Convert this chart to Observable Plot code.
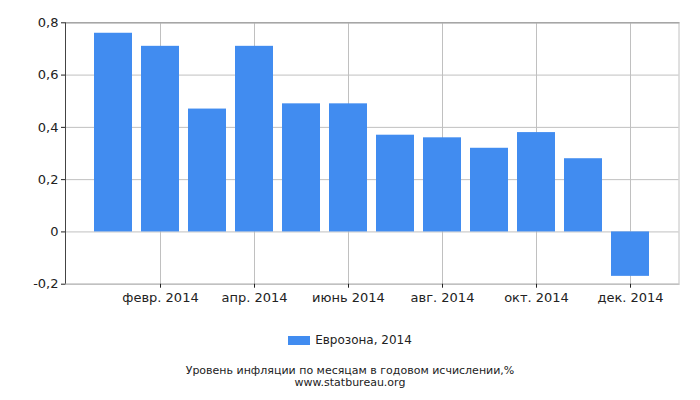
<!DOCTYPE html>
<html>
<head>
<meta charset="utf-8">
<script src="https://cdn.jsdelivr.net/npm/d3@7"></script>
<script src="https://cdn.jsdelivr.net/npm/@observablehq/plot@0.6"></script>
<style>
  html, body { margin: 0; padding: 0; background: #fff; }
  body { width: 700px; font-family: "DejaVu Sans", sans-serif; color: #222; }
  #legend { height: 20px; margin-top: 20px; display: flex; justify-content: center; align-items: center; font-size: 12px; }
  #legend .sw { width: 22px; height: 9px; background: #418cf0; margin-right: 5px; }
  #caption { text-align: center; font-size: 11px; line-height: 11.5px; margin-top: 15px; }
</style>
</head>
<body>
<div id="chart"></div>
<div id="legend"><span class="sw"></span><span id="series"></span></div>
<div id="caption"></div>
<script>
const months = ["янв. 2014", "февр. 2014", "март 2014", "апр. 2014", "май 2014", "июнь 2014",
                "июль 2014", "авг. 2014", "сент. 2014", "окт. 2014", "нояб. 2014", "дек. 2014"];
const values = [0.76, 0.71, 0.47, 0.71, 0.49, 0.49, 0.37, 0.36, 0.32, 0.38, 0.28, -0.17];
const xTickLabels = ["февр. 2014", "апр. 2014", "июнь 2014", "авг. 2014", "окт. 2014", "дек. 2014"];
const yTicks = [-0.2, 0, 0.2, 0.4, 0.6, 0.8];
const seriesName = "Еврозона, 2014";
const captionLines = ["Уровень инфляции по месяцам в годовом исчислении,%", "www.statbureau.org"];

const data = months.map((m, i) => ({month: m, value: values[i]}));
const fmt = d => d === 0 ? "0" : d.toFixed(1).replace(".", ",");

const chart = Plot.plot({
  width: 700,
  height: 310,
  marginLeft: 65,
  marginRight: 21.5,
  marginTop: 22.3,
  marginBottom: 26.3,
  style: {fontFamily: "DejaVu Sans, sans-serif", fontSize: "13px", color: "#222", background: "#fff"},
  x: {domain: months, paddingInner: 0.2, paddingOuter: 0.6, label: null},
  y: {domain: [-0.2, 0.8], label: null},
  marks: [
    Plot.gridY(yTicks, {stroke: "#c0c0c0", strokeOpacity: 1}),
    Plot.gridX(xTickLabels, {stroke: "#c0c0c0", strokeOpacity: 1}),
    Plot.frame({stroke: "#c0c0c0"}),
    Plot.frame({anchor: "top", stroke: "#999"}),
    Plot.barY(data, {x: "month", y: "value", fill: "#418cf0"}),
    Plot.frame({anchor: "left", stroke: "#444"}),
    Plot.frame({anchor: "bottom", stroke: "#c0c0c0"}),
    Plot.axisY(yTicks, {tickFormat: fmt, tickSize: 4, tickPadding: 3, stroke: "#222", fill: "#222", label: null}),
    Plot.axisX(xTickLabels, {tickSize: 4, tickPadding: 5, stroke: "#222", fill: "#222", label: null})
  ]
});
document.getElementById("chart").appendChild(chart);
document.getElementById("series").textContent = seriesName;
document.getElementById("caption").innerHTML = captionLines.map(s => `<div>${s}</div>`).join("");
</script>
</body>
</html>
